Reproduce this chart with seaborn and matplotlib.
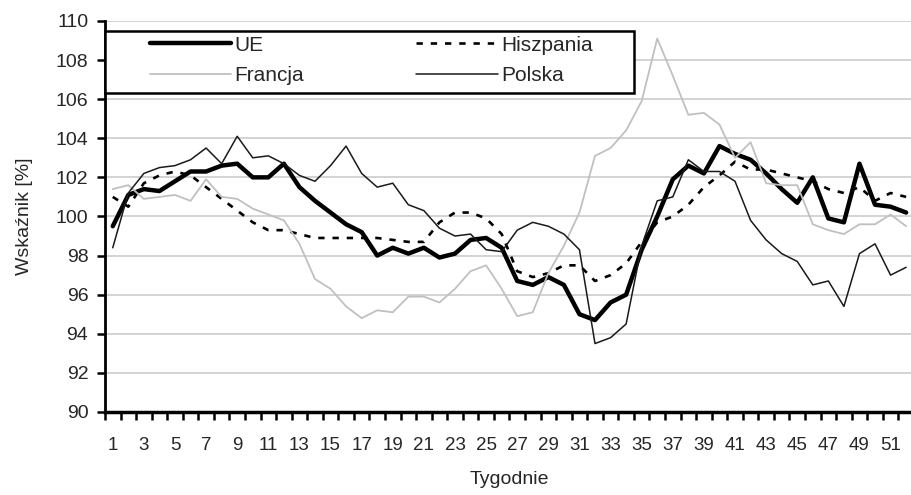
import seaborn as sns
import numpy as np
import matplotlib.pyplot as plt
from matplotlib.patches import Rectangle

# weekly index values [%]
weeks = list(range(1, 53))
ue = [99.5, 101.1, 101.4, 101.3, 101.8, 102.3, 102.3, 102.6, 102.7, 102.0,
      102.0, 102.7, 101.5, 100.8, 100.2, 99.6, 99.2, 98.0, 98.4, 98.1,
      98.4, 97.9, 98.1, 98.8, 98.9, 98.4, 96.7, 96.5, 96.9, 96.5,
      95.0, 94.7, 95.6, 96.0, 98.3, 100.0, 101.9, 102.6, 102.2, 103.6,
      103.2, 102.9, 102.2, 101.4, 100.7, 102.0, 99.9, 99.7, 102.7, 100.6,
      100.5, 100.2]
hiszpania = [101.0, 100.5, 101.7, 102.1, 102.3, 102.1, 101.5, 100.9, 100.3, 99.7,
             99.3, 99.3, 99.1, 98.9, 98.9, 98.9, 98.9, 98.9, 98.8, 98.7,
             98.7, 99.7, 100.2, 100.2, 99.9, 99.1, 97.2, 96.9, 97.1, 97.5,
             97.5, 96.7, 97.0, 97.6, 98.7, 99.7, 100.0, 100.6, 101.5, 102.1,
             102.8, 102.4, 102.4, 102.2, 102.0, 101.8, 101.4, 101.2, 101.5, 100.8,
             101.2, 101.0]
francja = [101.4, 101.6, 100.9, 101.0, 101.1, 100.8, 101.9, 101.0, 100.9, 100.4,
           100.1, 99.8, 98.6, 96.8, 96.3, 95.4, 94.8, 95.2, 95.1, 95.9,
           95.9, 95.6, 96.3, 97.2, 97.5, 96.3, 94.9, 95.1, 97.1, 98.5,
           100.2, 103.1, 103.5, 104.4, 105.9, 109.1, 107.2, 105.2, 105.3, 104.7,
           103.0, 103.8, 101.7, 101.6, 101.6, 99.6, 99.3, 99.1, 99.6, 99.6,
           100.1, 99.5]
polska = [98.4, 101.2, 102.2, 102.5, 102.6, 102.9, 103.5, 102.7, 104.1, 103.0,
          103.1, 102.7, 102.1, 101.8, 102.6, 103.6, 102.2, 101.5, 101.7, 100.6,
          100.3, 99.4, 99.0, 99.1, 98.3, 98.2, 99.3, 99.7, 99.5, 99.1,
          98.3, 93.5, 93.8, 94.5, 98.5, 100.8, 101.0, 102.9, 102.3, 102.3,
          101.8, 99.8, 98.8, 98.1, 97.7, 96.5, 96.7, 95.4, 98.1, 98.6,
          97.0, 97.4]

sns.set_style('white')
plt.rcParams['font.family'] = ['Liberation Sans', 'DejaVu Sans']

fig = plt.figure(figsize=(9.12, 4.95), dpi=100)
ax = fig.add_axes([0.1151, 0.1677, 0.887, 0.790])

sns.lineplot(x=weeks, y=ue, ax=ax, color='black', linewidth=3.2, label='UE')
sns.lineplot(x=weeks, y=hiszpania, ax=ax, color='black', linewidth=1.9,
             linestyle=(0, (2.4, 3.0)), label='Hiszpania')
sns.lineplot(x=weeks, y=francja, ax=ax, color='#c0c0c0', linewidth=1.3, label='Francja')
sns.lineplot(x=weeks, y=polska, ax=ax, color='#1a1a1a', linewidth=1.1, label='Polska')

ax.set_xlim(0.5, 52.5)
ax.set_ylim(90, 110)
ax.set_yticks(range(90, 111, 2))
ax.set_xticks(range(1, 52, 2))
ax.set_xticks(np.arange(0.5, 53, 1), minor=True)
ax.tick_params(axis='x', which='major', bottom=True, length=0, pad=18, labelsize=13.5)
ax.tick_params(axis='x', which='minor', bottom=True, length=6, width=1.8,
               direction='out', color='black')
ax.tick_params(axis='y', left=True, length=6, width=1.8, direction='out',
               color='black', labelsize=14, pad=6)

ax.yaxis.grid(True, color='#c8c8c8', linewidth=1.1)
ax.set_axisbelow(True)
for s in ['top', 'right']:
    ax.spines[s].set_visible(False)
ax.spines['left'].set_color('black')
ax.spines['left'].set_linewidth(2)
ax.spines['bottom'].set_color('black')
ax.spines['bottom'].set_linewidth(2.5)

ax.set_ylabel('Wskaźnik [%]', fontsize=14, labelpad=16)
ax.set_xlabel('Tygodnie', fontsize=14, labelpad=12)

# legend box
ax.add_patch(Rectangle((0, 0.816), 0.654, 0.158, transform=ax.transAxes,
                       facecolor='white', edgecolor='black', linewidth=1.8,
                       zorder=4.9, clip_on=False))
h = {l.get_label(): l for l in ax.get_lines() if not l.get_label().startswith('_')}
ax.legend(handles=[h['UE'], h['Francja'], h['Hiszpania'], h['Polska']],
          loc='center left', bbox_to_anchor=(0.0556, 0.899), ncol=2, frameon=False,
          handlelength=3.9, handletextpad=0.15, columnspacing=5.4,
          labelspacing=0.55, borderpad=0, borderaxespad=0, fontsize=15)

fig.savefig('out.png', dpi=100)
